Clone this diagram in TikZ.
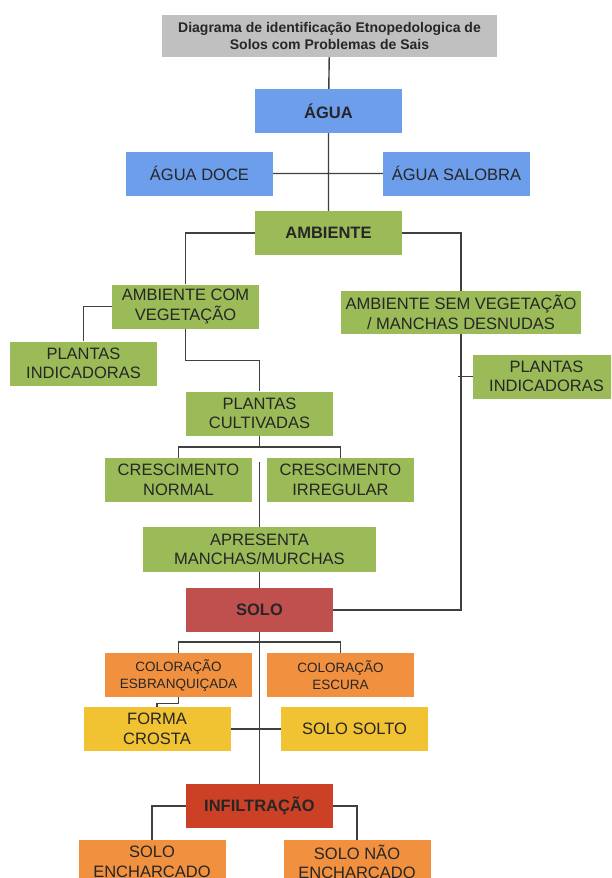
\documentclass[tikz,border=0pt]{standalone}
\usepackage{fontspec}
\setmainfont{Liberation Sans}
\definecolor{azul}{HTML}{6D9EEB}
\definecolor{verde}{HTML}{9BBB59}
\definecolor{cinza}{HTML}{C0C0C0}
\definecolor{vermelho}{HTML}{C0504D}
\definecolor{laranja}{HTML}{F1913F}
\definecolor{amarelo}{HTML}{F1C232}
\definecolor{tijolo}{HTML}{CC4125}
\definecolor{linha}{HTML}{404040}

\begin{document}
\begin{tikzpicture}[x=1pt,y=-1pt,
  box/.style={fill=#1,text=black!85,minimum width=147pt,minimum height=44pt,
    inner sep=0pt,align=center,font=\fontsize{16.5}{19.5}\selectfont},
  box/.default=verde,
  bold/.style={font=\fontsize{16.5}{19.5}\selectfont\bfseries},
  small/.style={font=\fontsize{13.5}{17}\selectfont},
  conn/.style={draw=linha,line width=1.4pt}]

\useasboundingbox (0,0) rectangle (611,878);
\clip (0,0) rectangle (611,878);

\node[box=cinza,minimum width=335pt,minimum height=42pt,
  font=\fontsize{14}{16.7}\selectfont\bfseries] (title) at (329.5,36)
  {Diagrama de identificação Etnopedologica de\\Solos com Problemas de Sais};
\node[box=azul,bold] (agua) at (328.5,111) {ÁGUA};
\node[box=azul] (doce) at (199.5,173.5) {ÁGUA DOCE};
\node[box=azul] (sal) at (456.5,173.5) {ÁGUA SALOBRA};
\node[box,bold] (amb) at (328.5,233) {AMBIENTE};
\node[box] (com) at (185.5,306.5) {AMBIENTE COM\\VEGETAÇÃO};
\node[box,minimum width=240pt,minimum height=43pt] (sem) at (461,312.5)
  {AMBIENTE SEM VEGETAÇÃO\\/ MANCHAS DESNUDAS};
\node[box] (pil) at (83.5,363.5) {PLANTAS\\INDICADORAS};
\node[box] (pir) at (546.5,376.5) {PLANTAS\\INDICADORAS};
\node[box] (cult) at (259.5,413.5) {PLANTAS\\CULTIVADAS};
\node[box] (norm) at (178.5,480) {CRESCIMENTO\\NORMAL};
\node[box] (irr) at (340.5,480) {CRESCIMENTO\\IRREGULAR};
\node[box,minimum width=233pt,minimum height=45pt] (apr) at (259.5,549.5)
  {APRESENTA\\MANCHAS/MURCHAS};
\node[box=vermelho,bold] (solo) at (259.5,610) {SOLO};
\node[box=laranja,small] (esb) at (178.5,675) {COLORAÇÃO\\ESBRANQUIÇADA};
\node[box=laranja,small] (esc) at (340.5,675) {COLORAÇÃO\\ESCURA};
\node[box=amarelo] (forma) at (157,729) {FORMA\\CROSTA};
\node[box=amarelo] (solto) at (354.5,729) {SOLO SOLTO};
\node[box=tijolo,bold] (inf) at (259.5,806) {INFILTRAÇÃO};
\node[box=laranja] (enc) at (152,862) {SOLO\\ENCHARCADO};
\node[box=laranja] (nenc) at (357,862) {SOLO NÃO\\ENCHARCADO};

\draw[conn] (title) -- (agua) (agua) -- (amb) (doce) -- (sal);
\draw[conn] (amb.west) -| (com.north);
\draw[conn] (amb.east) -| (sem.north);
\draw[conn] (com.west) -| (pil.north);
\draw[conn] (com.south) -- ++(0,32) -| (cult.north);
\draw[conn] (sem.south) |- (solo.east);
\draw[conn] (pir.west) -- ++(-15,0);
\draw[conn] (cult.south) -- ++(0,12);
\draw[conn] (norm.north) -- ++(0,-11) -| (irr.north);
\draw[conn] (apr.north) -- ++(0,-65);
\draw[conn] (apr) -- (solo);
\draw[conn] (solo) -- (inf);
\draw[conn] (esb.north) -- ++(0,-11) -| (esc.north);
\draw[conn] (esb.south) -- ++(0,6) -| (forma.north);
\draw[conn] (forma) -- (solto);
\draw[conn] (inf.west) -| (enc.north);
\draw[conn] (inf.east) -| (nenc.north);
\end{tikzpicture}
\end{document}
